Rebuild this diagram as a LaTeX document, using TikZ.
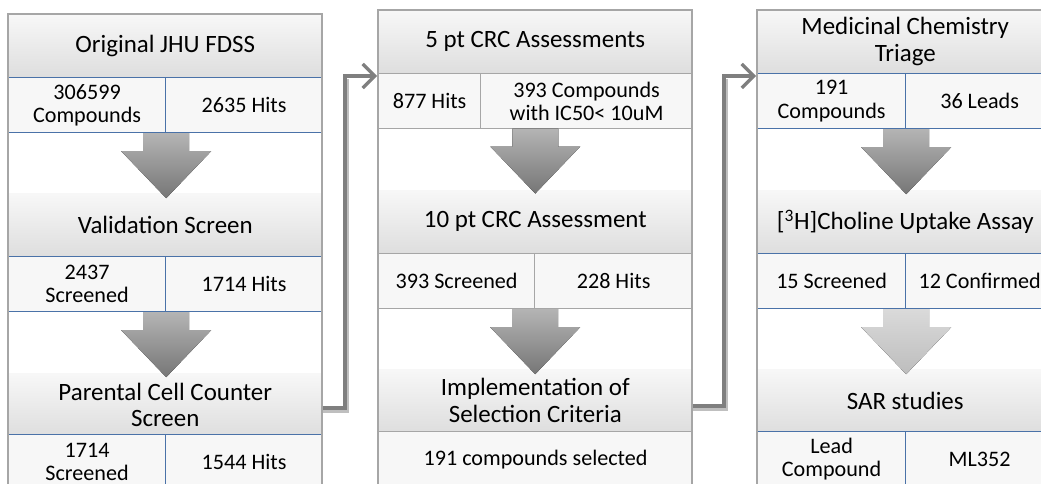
\documentclass[tikz,border=0pt]{standalone}
\usepackage{fontspec}
\setmainfont{Carlito}
\usetikzlibrary{arrows.meta,calc}
\definecolor{bord}{HTML}{A6A6A6}
\definecolor{blu}{HTML}{4A72A8}
\definecolor{conn}{HTML}{7F7F7F}
\definecolor{arrT}{HTML}{B4B4B4}
\definecolor{arrB}{HTML}{767676}
\definecolor{larrT}{HTML}{DADADA}
\definecolor{larrB}{HTML}{BDBDBD}
\newlength{\px}\setlength{\px}{0.75pt}
\tikzset{
  hdr/.style={anchor=north west, minimum height=63\px, inner sep=0pt, align=center,
    top color=white!97!black, bottom color=white!87!black, draw=none,
    font=\fontsize{18.7}{20}\selectfont},
  cellb/.style={anchor=north west, minimum height=55\px, inner sep=0pt, align=center,
    fill=white!97!black, draw=#1, line width=0.9pt,
    font=\fontsize{16.6}{17.5}\selectfont},
  colline/.style={draw=bord, line width=1pt},
  connline/.style={draw=conn, line width=2.7pt, line join=miter,
    -{Straight Barb[length=9pt,width=18pt,line width=2.4pt]}},
  connshadow/.style={draw=black!25, line width=2.7pt, line join=miter},
}
\newcommand{\dnarr}[3]{%
  \fill[top color=#2, bottom color=#3] (#1) ++(-23,0) -- ++(46,0) -- ++(0,18) -- ++(22,0)
    -- ++(-45,47) -- ++(-45,-47) -- ++(22,0) -- cycle;}
\begin{document}
\begin{tikzpicture}[x=0.75pt,y=-0.75pt]
\useasboundingbox (0,0) rectangle (1041,484);
\begin{scope}
\clip (0,0) rectangle (1041,484);
% ---------- column 1 ----------
\fill[white] (8,14) rectangle (322,500);
\node[hdr, minimum width=314\px] (a1) at (8,14) {Original JHU FDSS};
\node[cellb=blu, minimum width=157\px] (a1l) at (8,77) {306599\\Compounds};
\node[cellb=blu, minimum width=157\px] (a1r) at (165,77) {2635 Hits};
\node[hdr, minimum width=314\px] (a2) at (8,193) {Validation Screen};
\node[cellb=blu, minimum width=157\px] (a2l) at (8,256) {2437\\Screened};
\node[cellb=blu, minimum width=157\px] (a2r) at (165,256) {1714 Hits};
\node[hdr, minimum width=314\px] (a3) at (8,373) {Parental Cell Counter\\Screen};
\node[cellb=blu, minimum width=157\px] (a3l) at (8,434) {1714\\Screened};
\node[cellb=blu, minimum width=157\px] (a3r) at (165,434) {1544 Hits};
\dnarr{a1l.south east}{arrT}{arrB}
\dnarr{a2l.south east}{arrT}{arrB}
\draw[colline] (8,520) -- (8,14) -- (322,14) -- (322,520);
% ---------- column 2 ----------
\fill[white] (378,10) rectangle (692,500);
\node[hdr, minimum width=314\px] (b1) at (378,10) {5 pt CRC Assessments};
\node[cellb=bord, minimum width=102\px] (b1l) at (378,73) {877 Hits};
\node[cellb=bord, minimum width=212\px] (b1r) at (480,73) {393 Compounds\\with IC50< 10uM};
\node[hdr, minimum width=314\px] (b2) at (378,190) {10 pt CRC Assessment};
\node[cellb=bord, minimum width=156\px] (b2l) at (378,253) {393 Screened};
\node[cellb=bord, minimum width=158\px] (b2r) at (534,253) {228 Hits};
\node[hdr, minimum width=314\px] (b3) at (378,369) {Implementation of\\Selection Criteria};
\node[cellb=bord, minimum width=314\px] (b3c) at (378,431) {191 compounds selected};
\coordinate (b1m) at ($(b1.south)+(0,55)$);
\dnarr{b1m}{arrT}{arrB}
\dnarr{b2l.south east}{arrT}{arrB}
\draw[colline] (378,520) -- (378,10) -- (692,10) -- (692,520);
% ---------- column 3 ----------
\fill[white] (757,10) rectangle (1053,500);
\node[hdr, minimum width=296\px] (c1) at (757,10) {Medicinal Chemistry\\Triage};
\node[cellb=blu, minimum width=148\px] (c1l) at (757,73) {191\\Compounds};
\node[cellb=blu, minimum width=148\px] (c1r) at (905,73) {36 Leads};
\node[hdr, minimum width=296\px] (c2) at (757,190) {[\textsuperscript{3}H]Choline Uptake Assay};
\node[cellb=blu, minimum width=148\px] (c2l) at (757,253) {15 Screened};
\node[cellb=blu, minimum width=148\px] (c2r) at (905,253) {12 Confirmed};
\node[hdr, minimum width=296\px] (c3) at (757,369) {SAR studies};
\node[cellb=blu, minimum width=148\px] (c3l) at (757,431) {Lead\\Compound};
\node[cellb=blu, minimum width=148\px] (c3r) at (905,431) {ML352};
\dnarr{c1l.south east}{arrT}{arrB}
\dnarr{c2l.south east}{larrT}{larrB}
\draw[colline] (757,520) -- (757,10) -- (1053,10) -- (1053,520);
% ---------- connectors ----------
\coordinate (k1) at ($(a3.east)+(0,3)$);
\coordinate (k2) at ($(b3.east)+(0,5)$);
\coordinate (t1) at ($(b1l.north west)+(-1,3)$);
\coordinate (t2) at ($(c1l.north west)+(-1,3)$);
\draw[connshadow] ($(k1)+(0,3)$) -| ($(t1)+(-30,3)$);
\draw[connline] (k1) -| ($(t1)+(-32,0)$) -- (t1);
\draw[connshadow] ($(k2)+(0,3)$) -| ($(t2)+(-30,3)$);
\draw[connline] (k2) -| ($(t2)+(-32,0)$) -- (t2);
\end{scope}
\end{tikzpicture}
\end{document}
